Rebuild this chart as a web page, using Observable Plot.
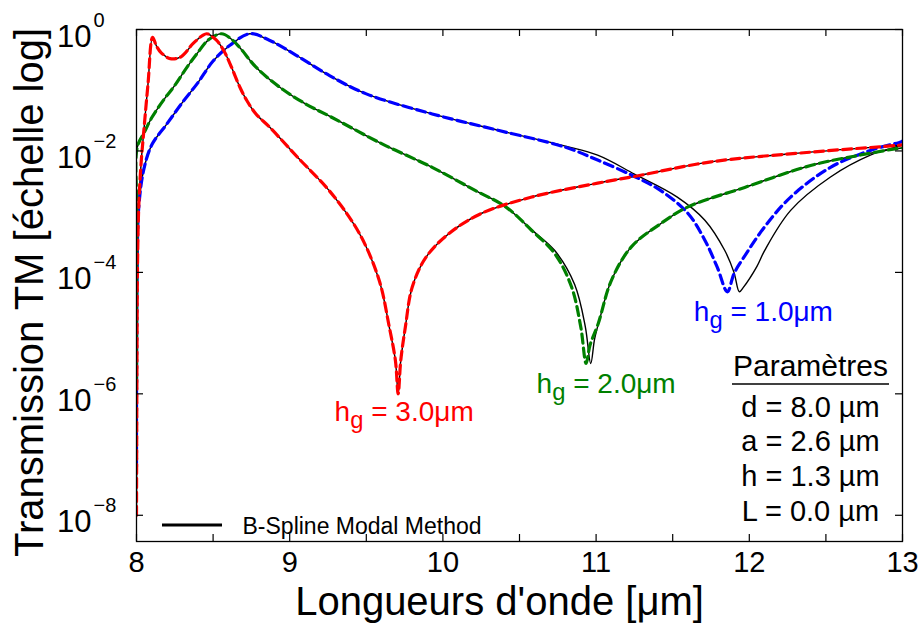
<!DOCTYPE html>
<html>
<head>
<meta charset="utf-8">
<script src="https://cdn.jsdelivr.net/npm/d3@7"></script>
<script src="https://cdn.jsdelivr.net/npm/@observablehq/plot@0.6"></script>
<style>
  body { margin: 0; background: #fff; }
  #chart { width: 922px; height: 644px; }
</style>
</head>
<body>
<div id="chart"></div>
<script>
// ---- Data ----
// hg = 3.0 µm (red dashed; B-Spline black coincides)
const wlHg3 = [8.000, 8.003, 8.007, 8.015, 8.030, 8.045, 8.075, 8.105, 8.130, 8.160, 8.220, 8.290, 8.370, 8.430, 8.460, 8.520, 8.570, 8.610, 8.675, 8.720, 8.780, 8.870, 9.050, 9.270, 9.455, 9.584, 9.650, 9.690, 9.708, 9.725, 9.755, 9.800, 9.890, 10.04, 10.25, 10.58, 11.01, 11.25, 11.75, 12.40, 12.96, 13.00];
const tHg3 = [1e-8, 3.16e-6, 1.58e-4, 1.26e-3, 6.31e-3, 0.0178, 0.126, 0.741, 0.537, 0.417, 0.331, 0.355, 0.589, 0.794, 0.851, 0.676, 0.447, 0.275, 0.112, 0.0676, 0.0407, 0.0245, 0.00794, 0.00204, 4.37e-4, 7.41e-5, 1.26e-5, 3.55e-6, 1e-6, 3.55e-6, 1.26e-5, 5.75e-5, 1.78e-4, 4.37e-4, 9.33e-4, 1.74e-3, 2.95e-3, 3.80e-3, 6.61e-3, 9.55e-3, 0.0123, 0.0126];
const wlHg3Bsm = wlHg3;
const tHg3Bsm = tHg3;

// hg = 2.0 µm (green dashed)
const wlHg2 = [8.000, 8.002, 8.005, 8.050, 8.100, 8.180, 8.250, 8.330, 8.400, 8.470, 8.555, 8.620, 8.675, 8.780, 8.935, 9.100, 9.270, 9.600, 9.930, 10.21, 10.41, 10.58, 10.73, 10.84, 10.90, 10.935, 10.96, 11.013, 11.10, 11.23, 11.42, 11.60, 11.97, 12.40, 12.72, 12.97, 13.00];
const tHg2 = [1.58e-6, 1e-3, 0.0115, 0.0200, 0.0355, 0.0708, 0.120, 0.240, 0.417, 0.676, 0.851, 0.692, 0.501, 0.240, 0.112, 0.0603, 0.0363, 0.0132, 5.37e-3, 2.24e-3, 1.20e-3, 4.90e-4, 2.04e-4, 5.75e-5, 1.26e-5, 3.16e-6, 6.31e-6, 1.41e-5, 7.41e-5, 2.63e-4, 6.31e-4, 1.20e-3, 2.51e-3, 5.75e-3, 8.51e-3, 0.0110, 0.0112];
// hg = 2.0 µm (B-Spline Modal Method, black)
const wlHg2Bsm = [8.000, 8.002, 8.005, 8.050, 8.100, 8.180, 8.250, 8.330, 8.400, 8.470, 8.555, 8.620, 8.675, 8.780, 8.935, 9.100, 9.270, 9.600, 9.930, 10.21, 10.41, 10.58, 10.73, 10.86, 10.93, 10.965, 10.99, 11.02, 11.10, 11.23, 11.42, 11.60, 11.97, 12.40, 12.72, 12.97, 13.00];
const tHg2Bsm = [1.58e-6, 1e-3, 0.0115, 0.0200, 0.0355, 0.0708, 0.120, 0.240, 0.417, 0.676, 0.851, 0.692, 0.501, 0.240, 0.112, 0.0603, 0.0363, 0.0132, 5.37e-3, 2.24e-3, 1.20e-3, 5.01e-4, 2.29e-4, 6.31e-5, 1.26e-5, 3.16e-6, 7.94e-6, 1.58e-5, 7.41e-5, 2.63e-4, 6.31e-4, 1.20e-3, 2.51e-3, 5.75e-3, 8.51e-3, 0.0110, 0.0112];

// hg = 1.0 µm (blue dashed)
const wlHg1 = [8.000, 8.004, 8.015, 8.048, 8.100, 8.200, 8.300, 8.400, 8.500, 8.610, 8.740, 8.870, 9.040, 9.260, 9.500, 9.930, 10.36, 10.80, 11.01, 11.25, 11.42, 11.60, 11.71, 11.79, 11.857, 11.90, 11.965, 12.10, 12.27, 12.53, 12.79, 12.99, 13.00];
const tHg1 = [6.31e-8, 1e-4, 1.20e-3, 5.01e-3, 0.0126, 0.0282, 0.0631, 0.132, 0.302, 0.550, 0.851, 0.661, 0.380, 0.174, 0.0871, 0.0407, 0.0219, 0.0115, 7.08e-3, 3.80e-3, 2.24e-3, 9.33e-4, 3.39e-4, 1.23e-4, 4.79e-5, 9.55e-5, 1.78e-4, 5.62e-4, 1.74e-3, 5.37e-3, 0.0102, 0.0141, 0.0145];
// hg = 1.0 µm (B-Spline Modal Method, black)
const wlHg1Bsm = [8.000, 8.004, 8.015, 8.048, 8.100, 8.200, 8.300, 8.400, 8.500, 8.610, 8.740, 8.870, 9.040, 9.260, 9.500, 9.930, 10.36, 10.80, 11.01, 11.25, 11.53, 11.71, 11.84, 11.90, 11.935, 11.96, 12.05, 12.10, 12.27, 12.53, 12.79, 12.99, 13.00];
const tHg1Bsm = [6.31e-8, 1e-4, 1.20e-3, 5.01e-3, 0.0126, 0.0282, 0.0631, 0.132, 0.302, 0.550, 0.851, 0.661, 0.380, 0.174, 0.0871, 0.0407, 0.0219, 0.0120, 8.51e-3, 4.17e-3, 1.74e-3, 7.24e-4, 2.29e-4, 1e-4, 4.79e-5, 5.62e-5, 1.26e-4, 2.29e-4, 1.05e-3, 3.72e-3, 8.51e-3, 0.0123, 0.0126];

// Ticks and labels
const xMinorTicks = [8, 8.5, 9, 9.5, 10, 10.5, 11, 11.5, 12, 12.5, 13];
const xTickValues = [8, 9, 10, 11, 12, 13];
const xTickLabels = ["8", "9", "10", "11", "12", "13"];
const yTickValues = [1, 1e-2, 1e-4, 1e-6, 1e-8];
const yTickBase = ["10", "10", "10", "10", "10"];
const yTickExps = ["0", "\u22122", "\u22124", "\u22126", "\u22128"];

const xTitle = "Longueurs d'onde [\u03bcm]";
const yTitle = "Transmission TM [\u00e9chelle log]";
const legendLabel = "B-Spline Modal Method";
const paramTitle = "Param\u00e8tres";
const paramLines = ["d = 8.0 \u00b5m", "a = 2.6 \u00b5m", "h = 1.3 \u00b5m", "L = 0.0 \u00b5m"];
const annotations = [
  {label: "hg = 3.0\u03bcm", x: 9.708, y: 1e-6, color: "#ff0000"},
  {label: "hg = 2.0\u03bcm", x: 10.935, y: 3.16e-6, color: "#008000"},
  {label: "hg = 1.0\u03bcm", x: 11.857, y: 4.79e-5, color: "#0000ff"}
];

// ---- Build ----
const rows = (wl, t) => wl.map((x, i) => ({x, y: t[i]}));
const W = 922, H = 644;
const mL = 136, mR = 20, mT = 29, mB = 103;
const frameW = W - mL - mR, frameH = H - mT - mB;
const tickLen = 7;
const font = "'Liberation Sans', Arial, Helvetica, sans-serif";

const blackLine = (data) => Plot.line(data, {x: "x", y: "y", stroke: "#000", strokeWidth: 1.4, curve: "catmull-rom", clip: true});
const dashLine = (data, color) => Plot.line(data, {x: "x", y: "y", stroke: color, strokeWidth: 3.2, strokeDasharray: "9,5", curve: "catmull-rom", clip: true});

const annMarks = [
  Plot.text([annotations[0]], {x: "x", y: "y", text: "label", fill: "color", dx: 6, dy: 27, lineAnchor: "bottom", textAnchor: "middle", fontSize: 28}),
  Plot.text([annotations[1]], {x: "x", y: "y", text: "label", fill: "color", dx: 20, dy: 30, lineAnchor: "bottom", textAnchor: "middle", fontSize: 28}),
  Plot.text([annotations[2]], {x: "x", y: "y", text: "label", fill: "color", dx: 36, dy: 29, lineAnchor: "bottom", textAnchor: "middle", fontSize: 28})
];

const chart = Plot.plot({
  width: W, height: H,
  marginLeft: mL, marginRight: mR, marginTop: mT, marginBottom: mB,
  style: {fontFamily: font, background: "#fff", color: "#000"},
  x: {domain: [8, 13], axis: null},
  y: {type: "log", domain: [3.7e-9, 1], axis: null},
  marks: [
    // curves: black (B-Spline) below, coloured dashed on top
    blackLine(rows(wlHg1Bsm, tHg1Bsm)),
    blackLine(rows(wlHg2Bsm, tHg2Bsm)),
    blackLine(rows(wlHg3Bsm, tHg3Bsm)),
    dashLine(rows(wlHg1, tHg1), "#0000ff"),
    dashLine(rows(wlHg2, tHg2), "#008000"),
    dashLine(rows(wlHg3, tHg3), "#ff0000"),
    // inward ticks on all four sides
    Plot.ruleX(xMinorTicks, {x: d => d, insetTop: frameH - tickLen, stroke: "#000", strokeWidth: 1.2}),
    Plot.ruleX(xMinorTicks, {x: d => d, insetBottom: frameH - tickLen, stroke: "#000", strokeWidth: 1.2}),
    Plot.ruleY(yTickValues, {y: d => d, insetRight: frameW - tickLen, stroke: "#000", strokeWidth: 1.2}),
    Plot.ruleY(yTickValues, {y: d => d, insetLeft: frameW - tickLen, stroke: "#000", strokeWidth: 1.2}),
    Plot.frame({stroke: "#000", strokeWidth: 1.3}),
    // tick labels
    Plot.text(xTickValues, {x: d => d, text: (d, i) => xTickLabels[i], frameAnchor: "bottom", dy: 30, lineAnchor: "bottom", textAnchor: "middle", fontSize: 29, fill: "#000"}),
    Plot.text(yTickValues, {y: d => d, text: (d, i) => yTickBase[i], frameAnchor: "left", dx: -45, dy: 17, textAnchor: "end", lineAnchor: "bottom", fontSize: 31, fill: "#000"}),
    Plot.text(yTickValues, {y: d => d, text: (d, i) => yTickExps[i], frameAnchor: "left", dx: -43, dy: -3, textAnchor: "start", lineAnchor: "bottom", fontSize: 20, fill: "#000"}),
    // axis titles
    Plot.text([xTitle], {frameAnchor: "bottom", dx: -20, dy: 73, lineAnchor: "bottom", textAnchor: "middle", fontSize: 40, fill: "#000"}),
    Plot.text([yTitle], {frameAnchor: "left", dx: -94, dy: 7, rotate: -90, lineAnchor: "bottom", textAnchor: "middle", fontSize: 40, fill: "#000"}),
    // legend text
    Plot.text([legendLabel], {frameAnchor: "bottom-left", dx: 106, dy: -8, textAnchor: "start", lineAnchor: "bottom", fontSize: 23, fill: "#000"}),
    // parameter box
    Plot.text([paramTitle], {frameAnchor: "bottom-right", dx: -92, dy: -166, lineAnchor: "bottom", textAnchor: "middle", fontSize: 30, fill: "#000"}),
    Plot.text([paramLines.join("\n")], {frameAnchor: "bottom-right", dx: -92, dy: -21, lineAnchor: "bottom", textAnchor: "middle", lineHeight: 1.19, fontSize: 29, fill: "#000"}),
    ...annMarks
  ]
});

const svg = d3.select(chart);
// legend line sample
svg.append("line").attr("x1", mL + 26).attr("x2", mL + 86).attr("y1", H - mB - 16).attr("y2", H - mB - 16)
  .attr("stroke", "#000").attr("stroke-width", 3);
// underline below "Paramètres"
svg.append("line").attr("x1", W - mR - 170).attr("x2", W - mR - 13).attr("y1", H - mB - 157).attr("y2", H - mB - 157)
  .attr("stroke", "#000").attr("stroke-width", 1.5);
// subscript g in the hg labels
svg.selectAll("text").each(function () {
  const s = this.textContent;
  if (s.startsWith("hg ")) {
    const node = d3.select(this);
    node.text(null);
    node.append("tspan").text("h");
    node.append("tspan").attr("dy", 7).attr("font-size", "0.85em").text("g");
    node.append("tspan").attr("dy", -7).text(s.slice(2));
  }
});

document.getElementById("chart").appendChild(chart);
</script>
</body>
</html>
